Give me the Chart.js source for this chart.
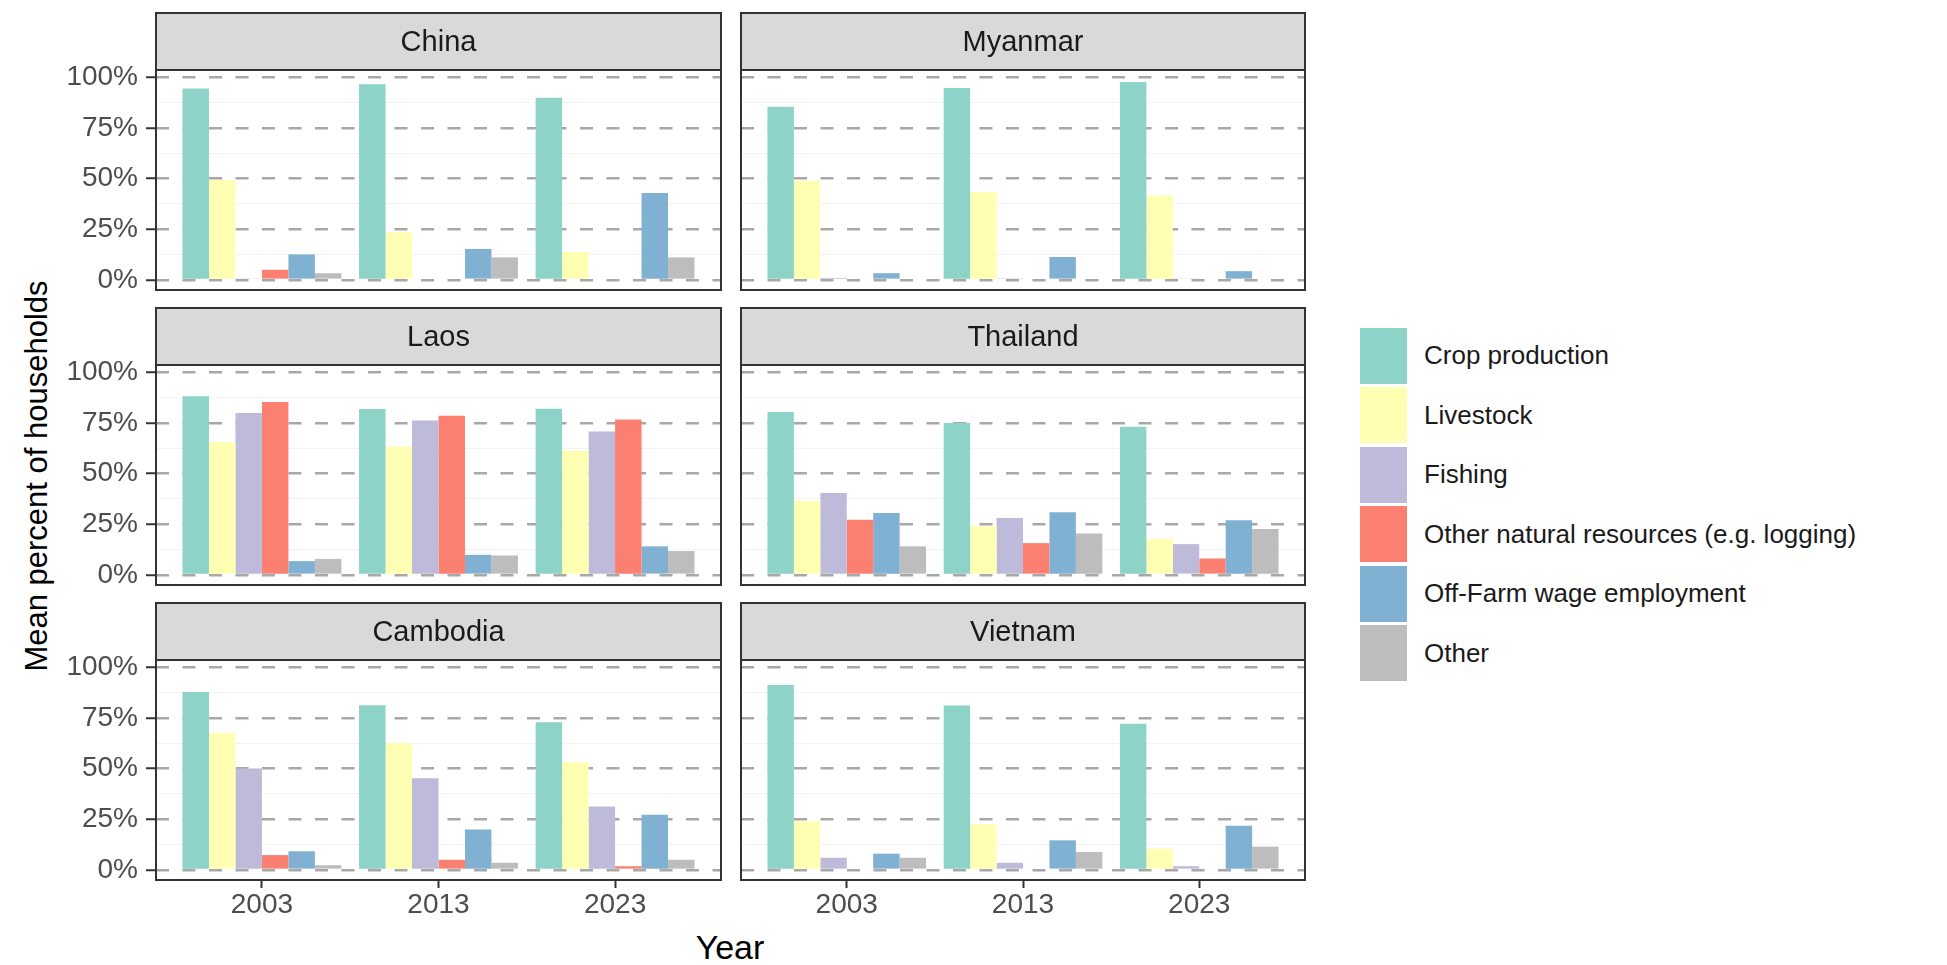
<!DOCTYPE html>
<html>
<head>
<meta charset="utf-8">
<script src="https://cdn.jsdelivr.net/npm/chart.js@4/dist/chart.umd.min.js"></script>
<style>
  body { margin: 0; background: #fff; font-family: "Liberation Sans", Arial, sans-serif; }
  #wrap { position: relative; width: 1947px; height: 965px; overflow: hidden; }
  canvas { position: absolute; }
  .ytitle { position: absolute; left: 37px; top: 476px; transform: translate(-50%, -50%) rotate(-90deg); font-size: 31px; color: #000; white-space: nowrap; }
  .xtitle { position: absolute; left: 730px; top: 947px; transform: translate(-50%, -50%); font-size: 34px; color: #000; }
  .legend { position: absolute; left: 1360px; top: 326px; }
  .item { display: flex; align-items: center; height: 59.5px; }
  .key { width: 47px; height: 56px; margin-right: 17px; }
  .label { font-size: 26px; color: #1a1a1a; white-space: nowrap; }
</style>
</head>
<body>
<div id="wrap">
  <div class="ytitle">Mean percent of households</div>
  <div class="xtitle">Year</div>
  <div class="legend" id="legend"></div>
</div>
<script>
const years = ['2003', '2013', '2023'];
const sources = ['Crop production', 'Livestock', 'Fishing', 'Other natural resources (e.g. logging)', 'Off-Farm wage employment', 'Other'];
const colors = ['#8dd3c7', '#ffffb3', '#bebada', '#fb8072', '#80b1d3', '#bdbdbd'];
const yMajor = [0, 25, 50, 75, 100];
const yMinor = [12.5, 37.5, 62.5, 87.5];

// percent of households, one row per source, one value per year
const china = [
    [94.5, 96.7, 90.0],
    [49.4, 23.5, 13.8],
    [0.5, 0, 0],
    [5.0, 0, 0],
    [12.6, 15.3, 42.9],
    [3.3, 11.1, 11.1]
];
const myanmar = [
    [85.5, 94.8, 97.8],
    [49.0, 43.4, 41.8],
    [1.0, 0.8, 0.5],
    [0, 0, 0],
    [3.3, 11.3, 4.3],
    [0, 0, 0]
];
const laos = [
    [88.2, 82.0, 82.1],
    [65.6, 63.4, 61.3],
    [80.0, 76.3, 70.9],
    [85.4, 78.6, 76.8],
    [6.8, 9.9, 14.1],
    [7.9, 9.6, 11.8]
];
const thailand = [
    [80.5, 75.0, 73.2],
    [36.5, 24.0, 17.7],
    [40.5, 28.1, 15.2],
    [27.3, 15.7, 8.1],
    [30.6, 31.0, 27.0],
    [14.1, 20.5, 22.7]
];
const cambodia = [
    [87.9, 81.4, 73.0],
    [67.6, 62.7, 53.2],
    [50.1, 45.3, 31.3],
    [7.3, 5.0, 1.8],
    [9.2, 20.0, 27.3],
    [2.3, 3.5, 5.0]
];
const vietnam = [
    [91.4, 81.2, 72.2],
    [24.0, 22.6, 10.5],
    [6.0, 3.5, 1.8],
    [0, 0, 0],
    [8.0, 14.6, 21.8],
    [6.0, 8.8, 11.5]
];

const panels = [
    {name: 'China', values: china, row: 0, col: 0},
    {name: 'Myanmar', values: myanmar, row: 0, col: 1},
    {name: 'Laos', values: laos, row: 1, col: 0},
    {name: 'Thailand', values: thailand, row: 1, col: 1},
    {name: 'Cambodia', values: cambodia, row: 2, col: 0},
    {name: 'Vietnam', values: vietnam, row: 2, col: 1}
];

const FONT = '"Liberation Sans", Arial, sans-serif';
const STRIP_H = 57;
const rowTops = [11, 306, 601];
const colLeft = [0, 739];
const colWidth = [723, 568];

// grey strip with the country name and the dark panel frame
const panelFrame = {
    id: 'panelFrame',
    afterDraw(chart, args, opts) {
        const ctx = chart.ctx;
        const a = chart.chartArea;
        const w = a.right - a.left;
        ctx.save();
        ctx.fillStyle = '#d9d9d9';
        ctx.fillRect(a.left, a.top - STRIP_H, w, STRIP_H);
        ctx.strokeStyle = '#333333';
        ctx.lineWidth = 2;
        ctx.strokeRect(a.left, a.top - STRIP_H, w, STRIP_H);
        ctx.strokeRect(a.left, a.top, w, a.bottom - a.top);
        ctx.fillStyle = '#1a1a1a';
        ctx.font = '29px ' + FONT;
        ctx.textAlign = 'center';
        ctx.textBaseline = 'middle';
        ctx.fillText(opts.title, (a.left + a.right) / 2, a.top - STRIP_H / 2 + 1);
        ctx.restore();
    }
};

const legend = document.getElementById('legend');
sources.forEach((s, i) => {
    const item = document.createElement('div');
    item.className = 'item';
    item.innerHTML = '<div class="key" style="background:' + colors[i] + '"></div><div class="label">' + s + '</div>';
    legend.appendChild(item);
});

panels.forEach(p => {
    const bottomRow = p.row === 2;
    const leftCol = p.col === 0;
    const canvas = document.createElement('canvas');
    canvas.width = colWidth[p.col];
    canvas.height = bottomRow ? 330 : 281;
    canvas.style.left = colLeft[p.col] + 'px';
    canvas.style.top = rowTops[p.row] + 'px';
    document.getElementById('wrap').appendChild(canvas);

    new Chart(canvas.getContext('2d'), {
        type: 'bar',
        data: {
            datasets: sources.map((s, i) => ({
                label: s,
                data: p.values[i].map((v, j) => ({x: j, y: v})),
                backgroundColor: colors[i],
                borderWidth: 0
            }))
        },
        options: {
            responsive: false,
            animation: false,
            devicePixelRatio: 1,
            categoryPercentage: 0.9,
            barPercentage: 1.0,
            layout: {
                padding: {left: leftCol ? 0 : 2, right: 2, top: 59, bottom: bottomRow ? 0 : 2}
            },
            plugins: {
                legend: {display: false},
                tooltip: {enabled: false},
                panelFrame: {title: p.name}
            },
            scales: {
                x: {
                    type: 'linear',
                    display: bottomRow,
                    min: -0.6,
                    max: 2.6,
                    offset: false,
                    afterBuildTicks: s => { s.ticks = years.map((y, j) => ({value: j})); },
                    afterFit: s => { s.height = bottomRow ? 51 : 0; },
                    grid: {offset: false, drawOnChartArea: false, drawTicks: true, tickLength: 8, tickColor: '#333333', tickWidth: 2},
                    border: {display: false},
                    ticks: {
                        autoSkip: false,
                        maxRotation: 0,
                        padding: 0,
                        color: '#4d4d4d',
                        font: {family: FONT, size: 28},
                        callback: v => years[v]
                    }
                },
                y: {
                    min: -5,
                    max: 103.7,
                    afterBuildTicks: s => { s.ticks = yMajor.concat(yMinor).map(v => ({value: v})); },
                    afterFit: s => {
                        s.width = leftCol ? 156 : 0;
                        s.paddingTop = 0;
                        s.paddingBottom = 0;
                    },
                    grid: {
                        color: c => yMajor.includes(c.tick.value) ? '#a8a8a8' : '#f3f3f3',
                        lineWidth: c => yMajor.includes(c.tick.value) ? 2.5 : 1,
                        drawTicks: leftCol,
                        tickLength: 10,
                        tickWidth: 2,
                        tickBorderDash: [],
                        tickColor: c => yMajor.includes(c.tick.value) ? '#333333' : 'rgba(0,0,0,0)'
                    },
                    border: {
                        display: false,
                        dash: c => yMajor.includes(c.tick.value) ? [13, 13.5] : []
                    },
                    ticks: {
                        display: leftCol,
                        autoSkip: false,
                        padding: 8,
                        color: '#4d4d4d',
                        font: {family: FONT, size: 28},
                        callback: v => yMajor.includes(v) ? v + '%' : ''
                    }
                }
            }
        },
        plugins: [panelFrame]
    });
});
</script>
</body>
</html>
